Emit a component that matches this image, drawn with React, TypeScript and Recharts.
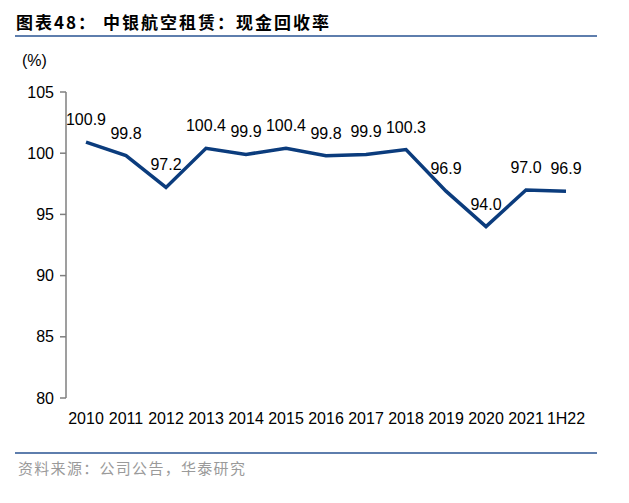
import React from 'react';
import { LineChart, Line, XAxis, YAxis, LabelList } from 'recharts';

const years = ['2010', '2011', '2012', '2013', '2014', '2015', '2016', '2017', '2018', '2019', '2020', '2021', '1H22'];
const cashRecovery = [100.9, 99.8, 97.2, 100.4, 99.9, 100.4, 99.8, 99.9, 100.3, 96.9, 94.0, 97.0, 96.9];
const yTicks = [80, 85, 90, 95, 100, 105];
const boundaryTicks = [0, 1, 2, 3, 4, 5, 6, 7, 8, 9, 10, 11, 12, 13];

const data = years.map((year, i) => ({ year, value: cashRecovery[i] }));

const font = '"Liberation Sans", Arial, sans-serif';
const cjk = '"Noto Sans CJK SC", sans-serif';
const axisColor = '#7f7f7f';

export default function App() {
  return (
    <div style={{ position: 'relative', width: 629, height: 503, margin: -8, background: '#fff', overflow: 'hidden' }}>
      <div style={{ position: 'absolute', left: 16, top: 9, fontFamily: cjk, fontWeight: 700, fontSize: 17, color: '#000', letterSpacing: 2 }}>
        图表48： 中银航空租赁：现金回收率
      </div>
      <div style={{ position: 'absolute', left: 15, top: 35, width: 582, height: 2, background: '#5e7ead' }} />
      <div style={{ position: 'absolute', left: 22, top: 52, fontFamily: font, fontSize: 16, color: '#000' }}>(%)</div>

      <div style={{ position: 'absolute', left: 0, top: 0 }}>
        <LineChart width={629} height={503} data={data} margin={{ top: 92, right: 43, bottom: 75, left: 20 }}>
          <XAxis
            dataKey="year"
            interval={0}
            axisLine={false}
            tickLine={false}
            tickMargin={9}
            height={30}
            padding={{ left: 20, right: 20 }}
            tick={{ fontFamily: font, fontSize: 16, fill: '#000' }}
          />
          <XAxis
            xAxisId="bounds"
            type="number"
            domain={[0, 13]}
            ticks={boundaryTicks}
            tick={false}
            height={0}
            tickSize={5}
            axisLine={{ stroke: axisColor, strokeWidth: 1.5 }}
            tickLine={{ stroke: axisColor, strokeWidth: 1.5 }}
          />
          <YAxis
            domain={[80, 105]}
            ticks={yTicks}
            interval={0}
            width={46}
            tickSize={6}
            tickMargin={6}
            axisLine={{ stroke: axisColor, strokeWidth: 1.5 }}
            tickLine={{ stroke: axisColor, strokeWidth: 1.5 }}
            tick={{ fontFamily: font, fontSize: 16, fill: '#000' }}
          />
          <Line
            type="linear"
            dataKey="value"
            stroke="#0b3c7d"
            strokeWidth={3.5}
            dot={false}
            isAnimationActive={false}
          >
            <LabelList
              dataKey="value"
              position="top"
              offset={17}
              formatter={(v: number) => v.toFixed(1)}
              style={{ fontFamily: font, fontSize: 16, fill: '#000' }}
            />
          </Line>
        </LineChart>
      </div>

      <div style={{ position: 'absolute', left: 15, top: 452, width: 582, height: 2, background: '#5e7ead' }} />
      <div style={{ position: 'absolute', left: 18, top: 457, fontFamily: cjk, fontSize: 15, color: '#9a9a9a', letterSpacing: 1.3 }}>
        资料来源：公司公告，华泰研究
      </div>
    </div>
  );
}
